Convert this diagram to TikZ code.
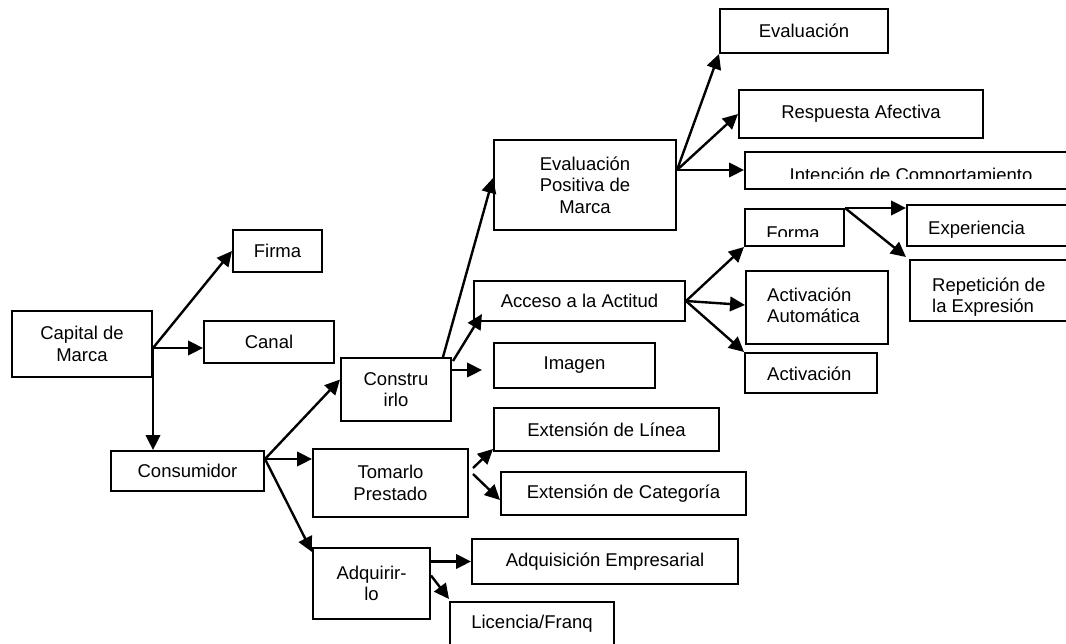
\documentclass[tikz,border=0pt]{standalone}
\usepackage{fontspec}
\setmainfont{Liberation Sans}
\usetikzlibrary{arrows.meta,calc}
\newcommand{\diagfont}{\fontsize{18.5}{21.5}\selectfont}
\begin{document}
\begin{tikzpicture}[x=1pt,y=-1pt,
  box/.style={draw, line width=2pt, inner sep=0pt, align=center, font=\diagfont},
  boxtext/.style={inner sep=0pt, align=left, font=\diagfont},
  link/.style={line width=2.4pt, -{Triangle[length=15pt,width=14.5pt]}},
]
\clip (0,0) rectangle (1066,643);
\fill[white] (0,0) rectangle (1066,643);

% boxes with centred text
\node[box, minimum width=140pt, minimum height=66pt] (cap) at (82,344) {Capital de\\Marca};
\node[box, minimum width=89pt, minimum height=42pt] (firma) at (277.5,251) {Firma};
\node[box, minimum width=130pt, minimum height=42pt] (canal) at (269,342) {Canal};
\node[box, minimum width=153pt, minimum height=40pt] (cons) at (187.5,471) {Consumidor};
\node[box, minimum width=110pt, minimum height=63pt] (constr) at (396,389.5) {Constru\\irlo};
\node[box, minimum width=155pt, minimum height=68pt] (tomar) at (390.5,483) {Tomarlo\\Prestado};
\node[box, minimum width=117pt, minimum height=71pt] (adq) at (371.5,583.5) {Adquirir-\\lo};
\node[box, minimum width=182pt, minimum height=90pt] (evpos) at (585,185) {Evaluación\\Positiva de\\Marca};
\node[box, minimum width=211pt, minimum height=40pt] (acc) at (579.5,301) {Acceso a la Actitud};
\node[box, minimum width=161pt, minimum height=45pt] (img) at (574.5,365.5) {Imagen};
\node[box, minimum width=225pt, minimum height=43pt] (extlin) at (606.5,429.5) {Extensión de Línea};
\node[box, minimum width=245pt, minimum height=43pt] (extcat) at (623.5,493.5) {Extensión de Categoría};
\node[box, minimum width=266pt, minimum height=45pt] (adqemp) at (605,561.5) {Adquisición Empresarial};
\node[box, minimum width=164pt, minimum height=44pt] (lic) at (532,624) {Licencia/Franq};
\node[box, minimum width=168pt, minimum height=44pt] (eval) at (804,31) {Evaluación};
\node[box, minimum width=244pt, minimum height=48pt] (resp) at (861,114) {Respuesta Afectiva};

% boxes whose text is set separately
\node[box, minimum width=335pt, minimum height=37pt] (inten) at (912.5,170.5) {};
\node[box, minimum width=99pt, minimum height=37pt] (forma) at (794.5,227.5) {};
\node[box, minimum width=173pt, minimum height=41pt] (exper) at (993.5,225.5) {};
\node[box, minimum width=170pt, minimum height=61pt] (repet) at (995,290.5) {};
\node[box, minimum width=142pt, minimum height=73pt] (actauto) at (817,307.5) {};
\node[box, minimum width=132pt, minimum height=40pt] (activ) at (811,373) {};

% left-aligned texts (anchored at the baseline of their last line)
\node[boxtext, anchor=base west] (experT) at (928,234) {Experiencia};
\node[boxtext, anchor=base west] (repetT) at (932,312.8) {Repetición de\\la Expresión};
\node[boxtext, anchor=base west] (actautoT) at (767,322.5) {Activación\\Automática};
\node[boxtext, anchor=base west] (activT) at (767,380) {Activación};
% texts cut off at the bottom of their boxes
\begin{scope}
  \clip (746,150) rectangle (1066,178.5);
  \node[boxtext, anchor=base] (intenT) at (911,181) {Intención de Comportamiento};
\end{scope}
\begin{scope}
  \clip (746,200) rectangle (843,236);
  \node[boxtext, anchor=base] (formaT) at (793,239) {Forma};
\end{scope}

% Capital de Marca
\coordinate (capo) at ($(cap.east)+(0,4)$);
\draw[link] (capo) -- (firma.west);
\draw[link] (capo) -- (canal.west |- capo);
\draw[link] (capo) -- (cons.north -| capo);

% Consumidor
\coordinate (conso) at ($(cons.north east)+(0,9)$);
\draw[link] (conso) -- ($(constr.west)+(0,-10)$);
\draw[link] (conso) -- (tomar.west |- conso);
\draw[link] (conso) -- ($(adq.north west)+(0,5)$);

% Construirlo
\draw[link] ($(constr.north east)+(-9,0)$) -- ($(evpos.west)+(0,-7)$);
\draw[link] ($(constr.north east)+(1,4)$) -- ($(acc.south west)+(9,-8)$);
\coordinate (constro) at ($(constr.north east)+(0,13)$);
\draw[link, shorten >=11pt] (constro) -- (img.west |- constro);

% Evaluacion positiva
\coordinate (evo) at ($(evpos.east)+(0,-15)$);
\draw[link] (evo) -- (eval.south west);
\draw[link] (evo) -- (resp.west);
\draw[link] (evo) -- (inten.west |- evo);

% Acceso a la actitud
\draw[link] (acc.east) -- (forma.south west);
\draw[link] (acc.east) -- ($(actauto.west)+(0,-2.5)$);
\draw[link] (acc.east) -- (activ.north west);

% Forma
\draw[link] (forma.north east) -- (exper.west |- forma.north east);
\draw[link] (forma.north east) -- ($(repet.north west)+(-3,-2)$);

% Tomarlo prestado
\draw[link] ($(tomar.east)+(4,-15)$) -- ($(extlin.south west)+(0,-3)$);
\draw[link] ($(tomar.east)+(4,-9)$) -- ($(extcat.west)+(0,6.5)$);

% Adquirirlo
\draw[link] (adq.east |- adqemp.west) -- (adqemp.west);
\draw[link] ($(adq.east)+(0,-8)$) -- ($(lic.north west)+(0,-2)$);
\end{tikzpicture}
\end{document}
